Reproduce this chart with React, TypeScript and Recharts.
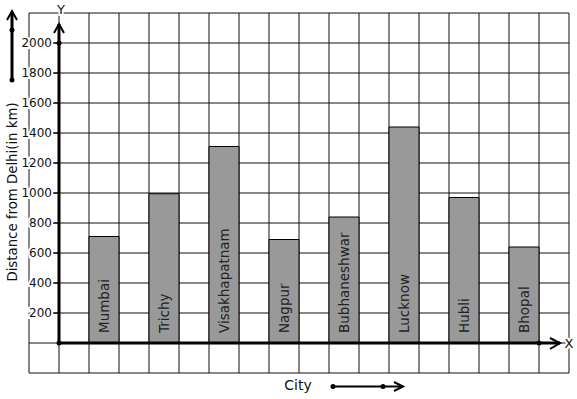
import React from 'react';
import {
  BarChart,
  Bar,
  XAxis,
  YAxis,
  CartesianGrid,
  ReferenceLine,
  ReferenceDot,
  LabelList,
  Customized
} from 'recharts';

const cities = ['Mumbai', 'Trichy', 'Visakhapatnam', 'Nagpur', 'Bubhaneshwar', 'Lucknow', 'Hubli', 'Bhopal'];
const distances = [710, 995, 1310, 690, 840, 1440, 970, 640];
const yTicks = [-200, 0, 200, 400, 600, 800, 1000, 1200, 1400, 1600, 1800, 2000, 2200];
const xTicks = [-1, 0, 1, 2, 3, 4, 5, 6, 7, 8, 9, 10, 11, 12, 13, 14, 15, 16, 17];

// each city sits in every second grid cell to the right of the Y axis
const data = cities.map((city, i) => ({ city, pos: 1.5 + i * 2, distance: distances[i] }));

const YTick = (props: any) => {
  const { x, y, payload } = props;
  const v = payload.value;
  if (v <= 0 || v > 2000) return null;
  return (
    <g>
      <line x1={x + 24} x2={x + 30} y1={y} y2={y} stroke="#000" strokeWidth={1.2} />
      <text
        x={x + 23}
        y={y}
        textAnchor="end"
        dominantBaseline="central"
        fontSize={12}
        fill="#111"
        stroke="#fff"
        strokeWidth={4}
        paintOrder="stroke"
      >
        {v}
      </text>
    </g>
  );
};

const BarLabel = (props: any) => {
  const { x, y, width, height, value } = props;
  return (
    <text
      transform={`translate(${x + width / 2},${y + height - 10}) rotate(-90)`}
      dominantBaseline="central"
      fontSize={13.5}
      fill="#222"
    >
      {value}
    </text>
  );
};

const YArrow = (props: any) => {
  const { x1, y1, x2, y2 } = props;
  return (
    <g>
      <line x1={x1} y1={y1} x2={x2} y2={y2} stroke="#000" strokeWidth={3} />
      <path d={`M${x2 - 5},${y2 + 9} L${x2},${y2} L${x2 + 5},${y2 + 9}`} fill="none" stroke="#000" strokeWidth={2} />
      <text x={x2 + 2} y={y2 - 14} textAnchor="middle" dominantBaseline="central" fontSize={13} fill="#111" stroke="#fff" strokeWidth={4} paintOrder="stroke">Y</text>
    </g>
  );
};

const XArrow = (props: any) => {
  const { x1, y1, x2, y2 } = props;
  return (
    <g>
      <line x1={x1} y1={y1} x2={x2} y2={y2} stroke="#000" strokeWidth={3} />
      <path d={`M${x2 - 10},${y2 - 5} L${x2},${y2} L${x2 - 10},${y2 + 6}`} fill="none" stroke="#000" strokeWidth={2} />
      <text x={x2 + 9} y={y2} textAnchor="middle" dominantBaseline="central" fontSize={13} fill="#111" stroke="#fff" strokeWidth={4} paintOrder="stroke">X</text>
    </g>
  );
};

const Decorations = () => (
  <g>
    <line x1={12} y1={80} x2={12} y2={12} stroke="#000" strokeWidth={3} />
    <path d="M7,20 L12,11 L17,20" fill="none" stroke="#000" strokeWidth={2} />
    <circle cx={12} cy={30} r={2.5} fill="#000" />
    <circle cx={12} cy={80} r={2.5} fill="#000" />
    <text x={298} y={385} textAnchor="middle" dominantBaseline="central" fontSize={14} fill="#111">City</text>
    <line x1={333} y1={386.5} x2={402} y2={386.5} stroke="#000" strokeWidth={2} />
    <path d="M394,382 L403,386.5 L394,391" fill="none" stroke="#000" strokeWidth={2} />
    <circle cx={333} cy={386.5} r={2.5} fill="#000" />
    <circle cx={383} cy={386.5} r={2.5} fill="#000" />
  </g>
);

const YLabel = (props: any) => {
  const { viewBox } = props;
  const cx = viewBox.x + 12.5;
  const cy = viewBox.y + viewBox.height / 2 - 1;
  return (
    <text
      transform={`translate(${cx},${cy}) rotate(-90)`}
      textAnchor="middle"
      dominantBaseline="central"
      fontSize={13.3}
      fill="#111"
    >
      Distance from Delhi(in km)
    </text>
  );
};

// one vertical grid line per x tick, spread across the plot area
const verticalLines = ({ offset }: any) => {
  const step = offset.width / (xTicks.length - 1);
  return xTicks.map((_, i) => offset.left + i * step);
};

const App: React.FC = () => {
  return (
    <div style={{ position: 'absolute', left: 0, top: 0, fontFamily: 'DejaVu Sans', background: '#fff' }}>
      <BarChart width={577} height={399} data={data} margin={{ top: 13, right: 8, bottom: 26, left: 0 }}>
        <CartesianGrid stroke="#111" strokeWidth={1} verticalCoordinatesGenerator={verticalLines} />
        <XAxis
          type="number"
          dataKey="pos"
          domain={[-1, 17]}
          ticks={xTicks}
          interval={0}
          tick={false}
          axisLine={false}
          tickLine={false}
          height={0}
          allowDataOverflow
        />
        <YAxis
          type="number"
          domain={[-200, 2200]}
          ticks={yTicks}
          interval={0}
          width={29}
          tickSize={0}
          tickMargin={0}
          axisLine={false}
          tickLine={false}
          tick={<YTick />}
          label={<YLabel />}
          allowDataOverflow
        />
        <Bar dataKey="distance" barSize={30} fill="#999999" stroke="#000" strokeWidth={1} isAnimationActive={false}>
          <LabelList dataKey="city" content={<BarLabel />} />
        </Bar>
        <ReferenceLine segment={[{ x: 0, y: 0 }, { x: 0, y: 2127 }]} shape={<YArrow />} ifOverflow="visible" />
        <ReferenceLine segment={[{ x: 0, y: 0 }, { x: 16.7, y: 0 }]} shape={<XArrow />} ifOverflow="visible" />
        <ReferenceDot x={0} y={0} r={2.5} fill="#000" stroke="none" />
        <ReferenceDot x={0} y={2000} r={2.5} fill="#000" stroke="none" />
        <ReferenceDot x={16} y={0} r={2.5} fill="#000" stroke="none" />
        <Customized component={Decorations} />
      </BarChart>
    </div>
  );
};

export default App;
